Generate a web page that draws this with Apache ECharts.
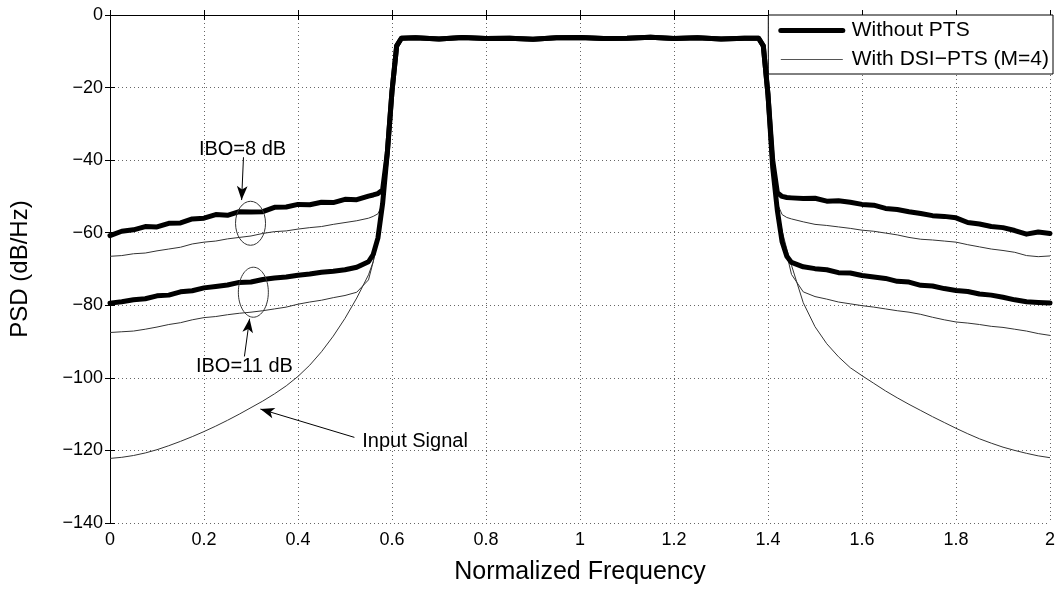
<!DOCTYPE html>
<html>
<head>
<meta charset="utf-8">
<script src="https://cdn.jsdelivr.net/npm/echarts@6/dist/echarts.min.js"></script>
<style>
  html, body { margin: 0; padding: 0; background: #fff; }
  #chart { width: 1060px; height: 590px; }
</style>
</head>
<body>
<div id="chart"></div>
<script>
// frequency samples: out-of-band left, in-band, out-of-band right
var freqLeft = [0, 0.025, 0.05, 0.075, 0.1, 0.125, 0.15, 0.175, 0.2, 0.225, 0.25, 0.275, 0.3, 0.325, 0.35, 0.375, 0.4, 0.425, 0.45, 0.475, 0.5, 0.525, 0.55,
  0.56, 0.57, 0.58, 0.59, 0.6, 0.61, 0.62];
var freqBand = [0.65, 0.7, 0.75, 0.8, 0.85, 0.9, 0.95, 1, 1.05, 1.1, 1.15, 1.2, 1.25, 1.3, 1.35];
var freqRight = [1.38, 1.39, 1.4, 1.41, 1.42, 1.43, 1.44,
  1.45, 1.475, 1.5, 1.525, 1.55, 1.575, 1.6, 1.625, 1.65, 1.675, 1.7, 1.725, 1.75, 1.775, 1.8, 1.825, 1.85, 1.875, 1.9, 1.925, 1.95, 1.975, 2];

// in-band PSD (shared by all curves)
var bandPSD = [-6.3, -6.6, -6.2, -6.5, -6.4, -6.7, -6.3, -6.2, -6.5, -6.4, -6.1, -6.5, -6.3, -6.6, -6.4];

// IBO = 8 dB, without PTS
var thick8Left = [-60.8, -59.6, -59.2, -58.3, -58.4, -57.4, -57.3, -56.2, -56.0, -55.0, -55.2, -54.2, -54.3, -54.2, -53.0, -52.9, -52.2, -52.3, -51.6, -51.7, -50.8, -50.9, -49.9,
  -49.6, -49.2, -48.2, -38, -21, -8.5, -6.4];
var thick8Right = [-6.4, -8.5, -22, -40, -49, -50.0, -50.3,
  -50.4, -50.6, -50.5, -51.3, -51.2, -51.6, -52.2, -52.4, -53.3, -53.6, -54.2, -54.7, -55.3, -55.5, -55.9, -57.2, -57.6, -58.3, -58.6, -59.4, -60.4, -59.8, -60.2];

// IBO = 8 dB, with DSI-PTS
var thin8Left = [-66.5, -66.3, -65.8, -65.6, -65.0, -64.5, -64.0, -63.1, -62.6, -62.3, -61.7, -61.3, -60.9, -60.2, -59.7, -59.5, -59.0, -58.6, -58.3, -57.7, -57.2, -56.7, -56.0,
  -55.5, -54.8, -52, -38, -21, -8.5, -6.4];
var thin8Right = [-6.4, -8.5, -22, -42, -52, -55.0, -55.8,
  -56.2, -57.0, -57.7, -58.0, -58.4, -58.8, -59.3, -59.6, -60.1, -60.6, -61.3, -61.8, -62.0, -62.3, -62.6, -63.3, -63.9, -64.5, -64.9, -65.4, -66.3, -66.6, -66.4];

// IBO = 11 dB, without PTS
var thick11Left = [-79.4, -79.0, -78.5, -78.2, -77.4, -77.2, -76.3, -76.0, -75.2, -74.8, -74.4, -73.7, -73.6, -72.9, -72.5, -72.2, -71.7, -71.4, -70.9, -70.6, -70.2, -69.5, -68.0,
  -66.0, -61.5, -52, -38, -21, -8.5, -6.4];
var thick11Right = [-6.4, -8.5, -22, -42, -54, -62.5, -66.5,
  -68.2, -69.4, -69.9, -70.2, -71.0, -71.1, -71.8, -72.2, -72.6, -73.4, -73.6, -74.5, -74.7, -75.4, -75.9, -76.2, -76.9, -77.2, -77.8, -78.5, -79.0, -79.2, -79.4];

// IBO = 11 dB, with DSI-PTS
var thin11Left = [-87.5, -87.3, -87.1, -86.6, -86.0, -85.3, -84.8, -84.0, -83.4, -83.1, -82.6, -82.2, -81.9, -81.5, -81.0, -80.5, -79.7, -79.1, -78.6, -77.9, -77.3, -76.4, -73.0,
  -68.0, -62, -52, -38, -21, -8.5, -6.4];
var thin11Right = [-6.4, -8.5, -22, -42, -53, -60, -66,
  -71.5, -76.3, -77.6, -78.3, -79.1, -79.6, -80.1, -80.5, -81.0, -81.5, -81.9, -82.5, -83.3, -84.0, -84.6, -84.9, -85.3, -85.8, -86.1, -86.6, -87.1, -87.8, -88.3];

// input signal
var inputLeft = [-122.2, -121.9, -121.4, -120.7, -119.8, -118.7, -117.5, -116.2, -114.8, -113.3, -111.7, -110.0, -108.2, -106.4, -104.4, -102.2, -99.6, -96.5, -92.8, -88.5, -83.6, -78.0, -71.6,
  -68.0, -62, -52, -38, -21, -8.5, -6.4];
var inputRight = [-6.4, -8.5, -22, -42, -53, -59.5, -64.5,
  -69.0, -79.3, -85.9, -90.6, -94.2, -97.2, -99.4, -101.5, -103.6, -105.5, -107.3, -109.0, -110.7, -112.3, -113.9, -115.4, -116.8, -118.0, -119.1, -120.0, -120.8, -121.5, -122.0];

var xTicks = [0, 0.2, 0.4, 0.6, 0.8, 1, 1.2, 1.4, 1.6, 1.8, 2];
var yTicks = [-140, -120, -100, -80, -60, -40, -20, 0];

// annotations in data coordinates
var arrows = [
  [[0.284, -39.2], [0.280, -51.0]],
  [[0.286, -94.1], [0.297, -83.7]],
  [[0.520, -116.4], [0.320, -108.6]]
];
var notes = [
  { text: 'IBO=8 dB', at: [0.282, -37.2] },
  { text: 'IBO=11 dB', at: [0.286, -96.8] },
  { text: 'Input Signal', at: [0.649, -117.5] }
];
var rings = [
  { at: [0.299, -57.4], rx: 15, ry: 22 },
  { at: [0.305, -76.4], rx: 15, ry: 25 }
];

var FONT = '"Liberation Sans", Arial, Helvetica, sans-serif';
var allFreq = freqLeft.concat(freqBand, freqRight);

function curve(left, right) {
  var ys = left.concat(bandPSD, right);
  return allFreq.map(function (f, i) { return [f, ys[i]]; });
}

function minusSign(v) {
  return v < 0 ? '\u2212' + Math.abs(v) : String(v);
}

var myChart = echarts.init(document.getElementById('chart'));

var thinStyle = { color: '#333', width: 1 };
var thickStyle = { color: '#000', width: 5, join: 'round', cap: 'round' };

myChart.setOption({
  animation: false,
  textStyle: { fontFamily: FONT },
  grid: { left: 107, right: 10, top: 15, bottom: 53, containLabel: false },
  legend: {
    data: [
      { name: 'Without PTS', lineStyle: { color: '#000', width: 5 } },
      { name: 'With DSI\u2212PTS (M=4)', lineStyle: { color: '#555', width: 1 } }
    ],
    orient: 'vertical',
    right: 7,
    top: 15,
    backgroundColor: '#fff',
    borderColor: '#000',
    borderWidth: 1,
    borderRadius: 0,
    padding: [5, 4, 4, 10],
    itemWidth: 62,
    itemHeight: 12,
    itemGap: 8,
    itemStyle: { opacity: 0 },
    textStyle: { fontSize: 21, color: '#000', fontFamily: FONT, padding: [0, 0, 0, 4] },
    selectedMode: false
  },
  xAxis: [
    {
      type: 'value',
      min: xTicks[0],
      max: xTicks[xTicks.length - 1],
      interval: 0.2,
      name: 'Normalized Frequency',
      nameLocation: 'middle',
      nameGap: 37,
      nameTextStyle: { fontSize: 25, color: '#000' },
      axisLine: { lineStyle: { color: '#000', width: 1 } },
      axisTick: { inside: true, length: 5, lineStyle: { color: '#000' } },
      axisLabel: { fontSize: 18, color: '#000', margin: 8 },
      splitLine: { show: true, lineStyle: { color: '#666', type: [1, 3], width: 1 } }
    },
    {
      type: 'value',
      position: 'top',
      min: xTicks[0],
      max: xTicks[xTicks.length - 1],
      interval: 0.2,
      axisLine: { lineStyle: { color: '#000', width: 1 } },
      axisTick: { inside: true, length: 5, lineStyle: { color: '#000' } },
      axisLabel: { show: false },
      splitLine: { show: false }
    }
  ],
  yAxis: [
    {
      type: 'value',
      min: yTicks[0],
      max: yTicks[yTicks.length - 1],
      interval: 20,
      name: 'PSD (dB/Hz)',
      nameLocation: 'middle',
      nameGap: 78,
      nameTextStyle: { fontSize: 24, color: '#000' },
      axisLine: { lineStyle: { color: '#000', width: 1 } },
      axisTick: { inside: true, length: 5, lineStyle: { color: '#000' } },
      axisLabel: { fontSize: 18, color: '#000', margin: 7, formatter: minusSign },
      splitLine: { show: true, lineStyle: { color: '#666', type: [1, 3], width: 1 } }
    },
    {
      type: 'value',
      position: 'right',
      min: yTicks[0],
      max: yTicks[yTicks.length - 1],
      interval: 20,
      axisLine: { lineStyle: { color: '#000', width: 1 } },
      axisTick: { inside: true, length: 5, lineStyle: { color: '#000' } },
      axisLabel: { show: false },
      splitLine: { show: false }
    }
  ],
  series: [
    {
      name: 'Input Signal',
      type: 'line',
      symbol: 'none',
      z: 2,
      lineStyle: thinStyle,
      data: curve(inputLeft, inputRight),
      markLine: {
        silent: true,
        symbol: ['none', 'arrow'],
        symbolSize: [8, 14],
        lineStyle: { color: '#000', width: 1, type: 'solid' },
        label: { show: false },
        data: arrows.map(function (a) {
          return [{ coord: a[0] }, { coord: a[1] }];
        })
      }
    },
    { name: 'With DSI\u2212PTS (M=4)', type: 'line', symbol: 'none', z: 3, lineStyle: thinStyle, data: curve(thin8Left, thin8Right) },
    { name: 'With DSI\u2212PTS (M=4)', type: 'line', symbol: 'none', z: 3, lineStyle: thinStyle, data: curve(thin11Left, thin11Right) },
    { name: 'Without PTS', type: 'line', symbol: 'none', z: 4, lineStyle: thickStyle, data: curve(thick8Left, thick8Right) },
    { name: 'Without PTS', type: 'line', symbol: 'none', z: 4, lineStyle: thickStyle, data: curve(thick11Left, thick11Right) }
  ]
});

// ellipses and labels placed from data coordinates
var graphics = [];
rings.forEach(function (r) {
  var p = myChart.convertToPixel({ gridIndex: 0 }, r.at);
  graphics.push({
    type: 'ellipse',
    z: 10,
    shape: { cx: p[0], cy: p[1], rx: r.rx, ry: r.ry },
    style: { fill: 'none', stroke: '#333', lineWidth: 1 }
  });
});
notes.forEach(function (n) {
  var p = myChart.convertToPixel({ gridIndex: 0 }, n.at);
  graphics.push({
    type: 'text',
    z: 10,
    x: p[0],
    y: p[1],
    style: {
      text: n.text,
      font: '20px ' + FONT,
      fill: '#000',
      align: 'center',
      verticalAlign: 'middle',
      textAlign: 'center',
      textVerticalAlign: 'middle'
    }
  });
});
myChart.setOption({ graphic: graphics });
</script>
</body>
</html>
